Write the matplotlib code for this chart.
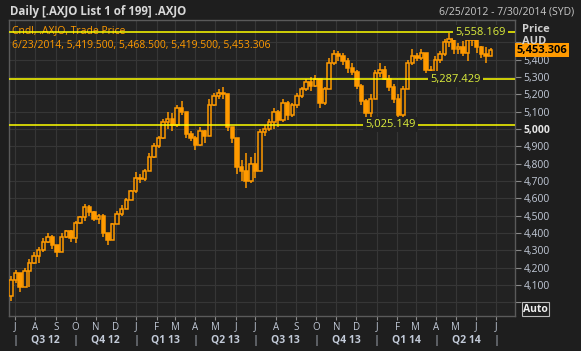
import matplotlib
matplotlib.use('Agg')
import matplotlib.pyplot as plt
import matplotlib.transforms as mtransforms
import pandas as pd

plt.rcParams['font.family'] = ['Open Sans', 'DejaVu Sans']

# weekly candles (.AXJO, 25 Jun 2012 - 23 Jun 2014)
weeks = pd.date_range('2012-06-25', '2014-06-23', freq='W-MON')
opens = [4040, 4130, 4170, 4090, 4180, 4230, 4270, 4300, 4350, 4380,
         4330, 4290, 4380, 4410, 4370, 4460, 4490, 4550, 4520, 4480,
         4500, 4400, 4360, 4450, 4510, 4540, 4590, 4640, 4720, 4710,
         4760, 4840, 4900, 4950, 5040, 5060, 5020, 5120, 5100, 4970,
         4950, 4910, 4990, 4960, 5140, 5190, 5210, 5200, 5010, 4950,
         4780, 4760, 4700, 4800, 4760, 4980, 5000, 5040, 5100, 5050,
         5150, 5080, 5140, 5190, 5230, 5270, 5250, 5290, 5150, 5230,
         5380, 5430, 5420, 5390, 5350, 5330, 5250, 5160, 5090, 5170,
         5320, 5340, 5290, 5240, 5170, 5080, 5230, 5380, 5420, 5410,
         5440, 5340, 5330, 5400, 5430, 5500, 5520, 5460, 5470, 5440,
         5510, 5530, 5470, 5430, 5419.5]
highs = [4150, 4190, 4170, 4200, 4250, 4290, 4320, 4370, 4400, 4390,
         4330, 4400, 4420, 4420, 4470, 4500, 4570, 4560, 4525, 4510,
         4510, 4400, 4460, 4530, 4560, 4600, 4650, 4750, 4740, 4770,
         4860, 4920, 4960, 5060, 5100, 5090, 5140, 5160, 5100, 4990,
         4960, 5010, 4995, 5170, 5210, 5230, 5240, 5200, 5010, 4950,
         4820, 4860, 4840, 4860, 5000, 5020, 5060, 5120, 5110, 5170,
         5160, 5150, 5210, 5240, 5290, 5300, 5310, 5290, 5240, 5410,
         5455, 5450, 5440, 5410, 5380, 5340, 5260, 5170, 5200, 5340,
         5380, 5360, 5310, 5260, 5200, 5250, 5400, 5460, 5440, 5460,
         5440, 5360, 5420, 5450, 5520, 5555, 5530, 5495, 5505, 5530,
         5550, 5540, 5480, 5470, 5468.5]
lows = [4010, 4110, 4060, 4090, 4090, 4220, 4230, 4290, 4340, 4310,
        4260, 4290, 4370, 4350, 4340, 4450, 4470, 4500, 4470, 4450,
        4380, 4330, 4360, 4450, 4500, 4540, 4590, 4630, 4690, 4700,
        4760, 4830, 4890, 4940, 5000, 4990, 5010, 5080, 4950, 4930,
        4880, 4900, 4920, 4960, 5130, 5170, 5170, 4990, 4920, 4740,
        4700, 4660, 4690, 4720, 4760, 4960, 4990, 5000, 5010, 5040,
        5050, 5070, 5120, 5180, 5220, 5220, 5240, 5120, 5140, 5230,
        5370, 5390, 5370, 5320, 5310, 5230, 5140, 5070, 5040, 5170,
        5300, 5280, 5220, 5150, 5040, 5040, 5230, 5370, 5390, 5400,
        5320, 5290, 5320, 5380, 5420, 5470, 5430, 5430, 5420, 5390,
        5480, 5440, 5410, 5380, 5419.5]
closes = [4130, 4170, 4090, 4180, 4230, 4270, 4300, 4350, 4380, 4330,
          4290, 4380, 4410, 4370, 4460, 4490, 4550, 4520, 4480, 4500,
          4400, 4360, 4450, 4510, 4540, 4590, 4640, 4720, 4710, 4760,
          4840, 4900, 4950, 5040, 5060, 5020, 5120, 5100, 4970, 4950,
          4910, 4990, 4960, 5140, 5190, 5210, 5200, 5010, 4950, 4780,
          4760, 4700, 4800, 4760, 4980, 5000, 5040, 5100, 5050, 5150,
          5080, 5140, 5190, 5230, 5270, 5250, 5290, 5150, 5230, 5380,
          5430, 5420, 5390, 5350, 5330, 5250, 5160, 5090, 5170, 5320,
          5340, 5290, 5240, 5170, 5080, 5230, 5380, 5420, 5410, 5440,
          5340, 5330, 5400, 5430, 5500, 5520, 5460, 5470, 5440, 5510,
          5530, 5470, 5430, 5420, 5453.306]

levels = [5558.169, 5287.429, 5025.149]
level_label_x = ['2014-06-08', '2014-05-01', '2014-01-22']
price_ticks = list(range(4000, 5600, 100))
last_price = 5453.306

BG = '#1e1e1e'
PLOT_BG = '#222222'
GRID = '#363636'
ORANGE = '#ff9a00'
AXIS_TXT = '#c2cad8'

fig = plt.figure(figsize=(5.81, 3.51), dpi=100, facecolor=BG)
ax = fig.add_axes([9 / 581, 35 / 351, 506 / 581, 296 / 351], facecolor=PLOT_BG)

# grid
for v in price_ticks:
    ax.axhline(v, color=GRID, lw=0.8, zorder=0)
months = pd.date_range('2012-07-01', '2014-07-01', freq='MS')
for m in months:
    ax.axvline(m, color=GRID, lw=0.8, zorder=0)

# candles
ax.vlines(weeks, lows, highs, color=ORANGE, lw=1.1, zorder=3)
for d, o, c in zip(weeks, opens, closes):
    up = c >= o
    ax.bar(d, abs(c - o) if c != o else 2, bottom=min(o, c), width=5.2,
           facecolor=PLOT_BG if up else ORANGE, edgecolor=ORANGE,
           linewidth=1.1, zorder=4)

# horizontal levels with labels
for lv, lx in zip(levels, level_label_x):
    ax.axhline(lv, color='#ffff00', lw=1.1, zorder=5)
    ax.text(pd.Timestamp(lx), lv, f'{lv:,.3f}', color='#dcee3c', fontsize=8,
            ha='center', va='center', zorder=6,
            bbox=dict(facecolor=PLOT_BG, edgecolor='none', pad=1.5))

ax.set_xlim(pd.Timestamp('2012-06-22'), pd.Timestamp('2014-07-30'))
ax.set_ylim(3922, 5628)

# x axis: month letters + quarter row
ax.set_xticks(months)
ax.set_xticklabels([m.strftime('%b')[0] for m in months])
ax.tick_params(axis='x', colors='#8a8a8a', labelcolor=AXIS_TXT, labelsize=7,
               length=3, pad=1)
trans = mtransforms.blended_transform_factory(ax.transData, ax.transAxes)
quarters = pd.date_range('2012-07-01', '2014-07-01', freq='QS')
for q0, q1 in zip(quarters[:-1], quarters[1:]):
    mid = q0 + (q1 - q0) / 2
    ax.text(mid, -0.082, f'Q{(q0.month - 1) // 3 + 1} {q0.strftime("%y")}',
            transform=trans, ha='center', va='center', color=AXIS_TXT,
            fontsize=7.5, fontweight='bold', clip_on=False)
for q in quarters:
    ax.text(q, -0.082, '|', transform=trans, ha='center', va='center',
            color=AXIS_TXT, fontsize=8, clip_on=False)

# y axis on the right
ax.yaxis.tick_right()
ax.set_yticks(price_ticks)
ax.set_yticklabels(['' if v in (4000, 5500) else f'{v:,}' for v in price_ticks])
ax.tick_params(axis='y', colors='#8a8a8a', labelcolor=AXIS_TXT, labelsize=7.5,
               length=4, pad=2)
for lab, v in zip(ax.get_yticklabels(), price_ticks):
    if v == 5000:
        lab.set_fontweight('bold')
        lab.set_color('#e6e6e6')

for side in ['left', 'top', 'right', 'bottom']:
    ax.spines[side].set_color('#5a5a5a')
    ax.spines[side].set_linewidth(1)

# legend text inside plot
ax.text(0.006, 0.963, 'Cndl, .AXJO, Trade Price', transform=ax.transAxes,
        color=ORANGE, fontsize=7.5, va='center', zorder=4)
ax.text(0.006, 0.915, '6/23/2014, 5,419.500, 5,468.500, 5,419.500, 5,453.306',
        transform=ax.transAxes, color=ORANGE, fontsize=7.5, va='center', zorder=4)

# last price box
ax.text(1.003, last_price, f'{last_price:,.3f}',
        transform=mtransforms.blended_transform_factory(ax.transAxes, ax.transData),
        color='black', fontsize=8, fontweight='bold', va='center', ha='left',
        bbox=dict(facecolor=ORANGE, edgecolor='none', pad=1.2), zorder=10,
        clip_on=False)

# header and right-axis captions
fig.text(10 / 581, 1 - 12 / 351, 'Daily [.AXJO List 1 of 199] .AXJO',
         color='#d8d8d8', fontsize=8.3, fontweight='bold', va='center')
fig.text(574 / 581, 1 - 12 / 351, '6/25/2012 - 7/30/2014 (SYD)',
         color='#c8c8c8', fontsize=7.5, va='center', ha='right')
fig.text(522 / 581, 1 - 29 / 351, 'Price', color='#d0d0d0', fontsize=8,
         fontweight='bold', va='center')
fig.text(522 / 581, 1 - 41 / 351, 'AUD', color='#d0d0d0', fontsize=8,
         fontweight='bold', va='center')
fig.text(523 / 581, 1 - 309 / 351, 'Auto', color='#f0f0f0', fontsize=7.5,
         fontweight='bold', va='center',
         bbox=dict(facecolor=BG, edgecolor='#bbbbbb', pad=1, linewidth=0.8))

fig.savefig('out.png', dpi=100, facecolor=BG)
plt.close(fig)
